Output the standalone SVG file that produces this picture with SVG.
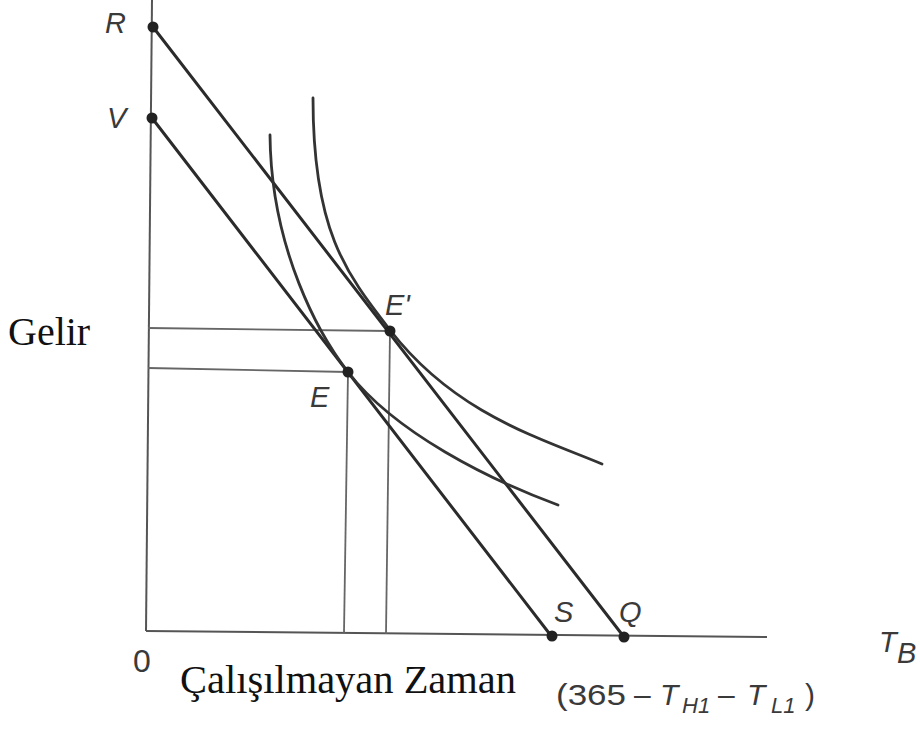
<svg xmlns="http://www.w3.org/2000/svg" width="920" height="733" viewBox="0 0 920 733">
<style>
.axis{stroke:#555;stroke-width:2;fill:none}
.guide{stroke:#666;stroke-width:1.8;fill:none}
.bl{stroke:#2b2b2b;stroke-width:3;fill:none;stroke-linecap:round}
.ic{stroke:#333;stroke-width:2.8;fill:none;stroke-linecap:round}
.dot{fill:#222}
.lab{font-family:"Liberation Sans",Arial,sans-serif;font-size:29px;font-style:italic;fill:#3a3a3a}
.up{font-family:"Liberation Sans",Arial,sans-serif;fill:#3a3a3a}
.ser{font-family:"Liberation Serif","Times New Roman",serif;font-size:40px;fill:#111}
</style>
<rect width="920" height="733" fill="#fff"/>
<g id="axes">
<line class="axis" x1="152" y1="0" x2="146" y2="631"/>
<line class="axis" x1="146" y1="631" x2="767" y2="637"/>
</g>
<g id="guides">
<line class="guide" x1="148" y1="328" x2="390" y2="331"/>
<line class="guide" x1="148" y1="368" x2="348" y2="372"/>
<line class="guide" x1="348" y1="372" x2="344" y2="633"/>
<line class="guide" x1="390" y1="331" x2="386" y2="634"/>
</g>
<g id="connectors">
<line id="budget-RQ" class="bl" x1="153" y1="27" x2="624" y2="637"/>
<line id="budget-VS" class="bl" x1="152" y1="118" x2="552" y2="637"/>
<path id="curve-inner" class="ic" d="M270,135 C271,250 320,336 348,372 C395,433 490,480 558,505"/>
<path id="curve-outer" class="ic" d="M313,98 C313,230 345,272 390,330 C455,414 540,438 602,464"/>
</g>
<g id="R"><circle class="dot" cx="153" cy="27" r="5.5"/><text class="lab" x="105" y="33">R</text></g>
<g id="V"><circle class="dot" cx="152" cy="118" r="5.5"/><text class="lab" x="107" y="128">V</text></g>
<g id="E-prime"><circle class="dot" cx="390" cy="331" r="5.5"/><text class="lab" x="385" y="315">E'</text></g>
<g id="E"><circle class="dot" cx="348" cy="372" r="5.5"/><text class="lab" x="310" y="407">E</text></g>
<g id="S"><circle class="dot" cx="552" cy="636" r="5.5"/><text class="lab" x="554" y="622">S</text></g>
<g id="Q"><circle class="dot" cx="624" cy="637" r="5.5"/><text class="lab" x="619" y="622">Q</text></g>
<g id="labels">
<text class="up" x="133" y="672" font-size="32">0</text>
<text class="lab" x="879" y="652">T</text>
<text class="lab" x="897" y="663" font-size="21">B</text>
<text class="up" y="705" font-size="30"><tspan x="556" textLength="70" lengthAdjust="spacingAndGlyphs">(365</tspan><tspan x="634">–</tspan><tspan x="660" font-style="italic">T</tspan><tspan x="682" y="713" font-size="22" font-style="italic">H1</tspan><tspan x="718" y="705">–</tspan><tspan x="747" font-style="italic">T</tspan><tspan x="771" y="713" font-size="22" font-style="italic">L1</tspan><tspan x="805" y="705">)</tspan></text>
<text class="ser" x="8" y="345">Gelir</text>
<text class="ser" x="180" y="693" textLength="336" lengthAdjust="spacingAndGlyphs">Çalışılmayan Zaman</text>
</g>
</svg>
